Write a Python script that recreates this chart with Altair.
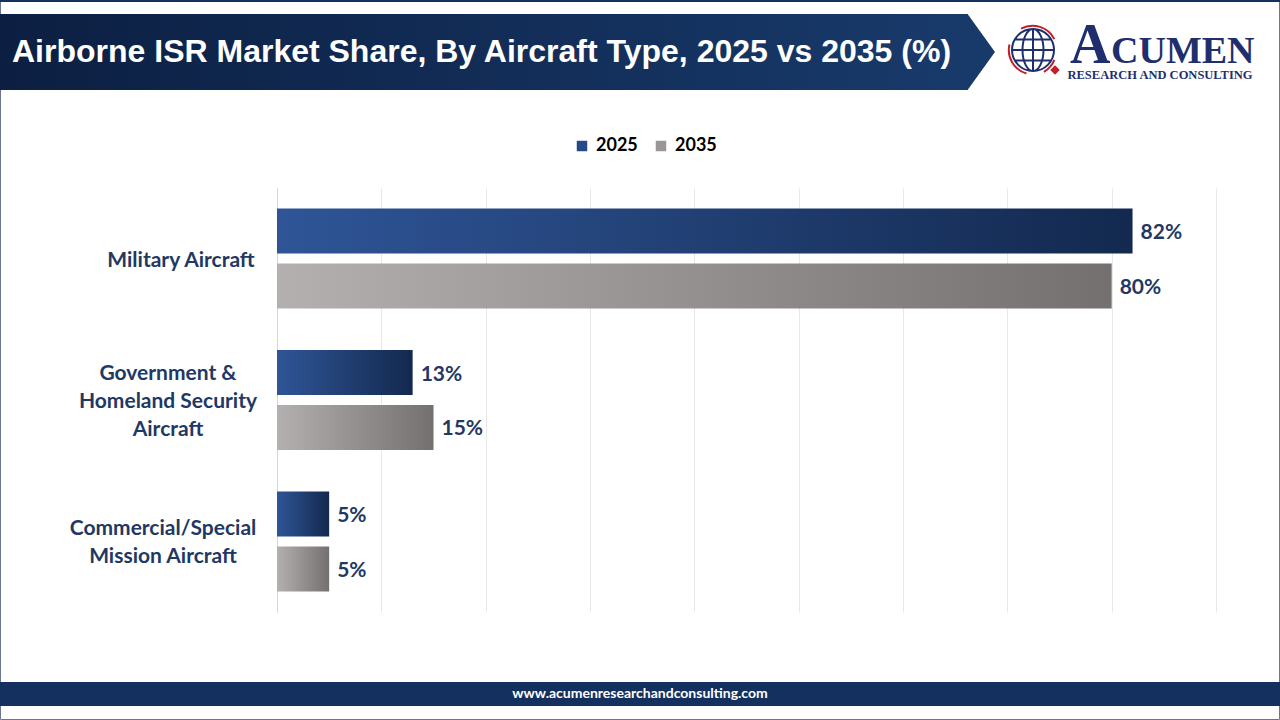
import altair as alt
import pandas as pd

# ---------------- data ----------------
categories = [
    "Military Aircraft",
    "Government & Homeland Security Aircraft",
    "Commercial/Special Mission Aircraft",
]
category_display = [
    "Military Aircraft",
    "Government &\nHomeland Security\nAircraft",
    "Commercial/Special\nMission Aircraft",
]
series = ["2025", "2035"]
values_2025 = [82, 13, 5]
values_2035 = [80, 15, 5]
x_ticks = [0, 10, 20, 30, 40, 50, 60, 70, 80, 90]

title_text = "Airborne ISR Market Share, By Aircraft Type, 2025 vs 2035 (%)"
footer_text = "www.acumenresearchandconsulting.com"

rows = []
for c, v in zip(categories, values_2025):
    rows.append({"category": c, "series": "2025", "value": v})
for c, v in zip(categories, values_2035):
    rows.append({"category": c, "series": "2035", "value": v})
df = pd.DataFrame(rows)
cat_df = pd.DataFrame({"category": categories, "display": category_display})
one = pd.DataFrame({"k": [0]})

NAVY = "#1F3864"
LABEL_CENTERS = [181, 168, 163]   # label block centres (px, canvas) – styling only
LINE_H = 28

y_enc = alt.Y(
    "category:N",
    sort=categories,
    scale=alt.Scale(paddingInner=0.293, paddingOuter=0.145),
    axis=alt.Axis(labels=False, ticks=False, title=None, domain=True,
                  domainColor="#D6D6D6", domainWidth=1, grid=False),
)
yoff_enc = alt.YOffset("series:N", sort=series,
                       scale=alt.Scale(paddingInner=0.18, paddingOuter=0))
x_enc = alt.X(
    "value:Q",
    scale=alt.Scale(domain=[0, 90], nice=False),
    axis=alt.Axis(values=x_ticks, grid=True, labels=False, ticks=False,
                  domain=False, title=None, gridColor="#E8E8E8", gridWidth=1),
)

base = alt.Chart(df).encode(x=x_enc, y=y_enc, yOffset=yoff_enc)


def grad(c1, c2):
    return alt.Gradient(
        gradient="linear",
        stops=[alt.GradientStop(color=c1, offset=0), alt.GradientStop(color=c2, offset=1)],
        x1=0, x2=1, y1=0, y2=0,
    )


bars_2025 = base.transform_filter(alt.datum.series == "2025").mark_bar(
    color=grad("#2F5597", "#13294F"))
bars_2035 = base.transform_filter(alt.datum.series == "2035").mark_bar(
    color=grad("#B4B0AF", "#747070"))

value_labels = base.transform_calculate(
    label="datum.value + '%'"
).mark_text(
    align="left", baseline="middle", dx=8, dy=2, font="Lato", fontWeight="bold",
    fontSize=21, color=NAVY,
).encode(text="label:N")

legend_layer = alt.Chart(df).mark_square(size=0, opacity=1).encode(
    x=x_enc, y=y_enc, yOffset=yoff_enc,
    color=alt.Color(
        "series:N", sort=series,
        scale=alt.Scale(domain=series, range=["#254A8A", "#9A9695"]),
        legend=alt.Legend(
            title=None, orient="none", legendX=296, legendY=-51,
            direction="horizontal", symbolType="square", symbolSize=110,
            symbolStrokeWidth=0, labelFont="Lato", labelFontWeight="bold",
            labelFontSize=18, labelColor="#000000", columnPadding=14,
            labelOffset=5, padding=0,
        ),
    ),
)

cat_layers = []
for cat, disp, cx in zip(categories, category_display, LABEL_CENTERS):
    n_lines = disp.count("\n") + 1
    cat_layers.append(
        alt.Chart(cat_df).transform_filter(alt.datum.category == cat).mark_text(
            align="center", baseline="middle", lineBreak="\n", lineHeight=LINE_H,
            dy=-(n_lines - 1) * LINE_H / 2 + 2,
            font="Lato", fontWeight="bold", fontSize=21, color=NAVY,
        ).encode(y=y_enc, x=alt.value(cx - 277), text="display:N")
    )

# ------------- decorations (pixel positions relative to plot origin 277,188) -------------
banner = alt.Chart(one).mark_rect(color=grad("#0C1F42", "#183A6B")).encode(
    x=alt.value(-277), x2=alt.value(691), y=alt.value(-174), y2=alt.value(-98))
banner_tip = alt.Chart(one).mark_point(
    shape="M-0.4,-1L0.32,0L-0.4,1Z", filled=True, size=5776, color="#183A6B", opacity=1,
).encode(x=alt.value(705.8), y=alt.value(-136))
title = alt.Chart(one).mark_text(
    text=title_text, align="left", baseline="alphabetic", font="Liberation Sans",
    fontWeight="bold", fontSize=32, color="white",
).encode(x=alt.value(-265), y=alt.value(-126))

globe = alt.Chart(one).mark_point(
    shape=("M-1,0A1,1,0,1,0,1,0A1,1,0,1,0,-1,0Z M-1,0L1,0 M0,-1L0,1 "
           "M-0.87,-0.5L0.87,-0.5 M-0.87,0.5L0.87,0.5 "
           "M0,-1A0.5,1,0,0,0,0,1 M0,-1A0.5,1,0,0,1,0,1"),
    filled=False, size=1764, stroke="#1F2F6E", strokeWidth=2, opacity=1,
).encode(x=alt.value(756), y=alt.value(-138))
ring = alt.Chart(one).mark_point(
    shape=("M-0.55,-0.98A1.12,1.12,0,0,1,0.98,-0.5 "
           "M0.98,0.45A1.12,1.12,0,0,1,0.5,1.0 "
           "M-0.3,1.08A1.12,1.12,0,0,1,-1.08,-0.25"),
    filled=False, size=1900, stroke="#C0202A", strokeWidth=2, opacity=1,
).encode(x=alt.value(756), y=alt.value(-138))
diamond = alt.Chart(one).mark_point(
    shape="diamond", filled=True, size=90, color="#C0202A", opacity=1,
).encode(x=alt.value(778), y=alt.value(-118))
logo_a = alt.Chart(one).mark_text(
    text="A", align="left", baseline="alphabetic", font="Liberation Serif",
    fontWeight="bold", fontSize=56, color="#1F2F6E",
).encode(x=alt.value(793), y=alt.value(-125))
logo_rest = alt.Chart(one).mark_text(
    text="CUMEN", align="left", baseline="alphabetic", font="Liberation Serif",
    fontWeight="bold", fontSize=38, color="#1F2F6E",
).encode(x=alt.value(834), y=alt.value(-125))
logo_sub = alt.Chart(one).mark_text(
    text="RESEARCH AND CONSULTING", align="center", baseline="alphabetic",
    font="Liberation Serif", fontWeight="bold", fontSize=12.5, color="#1F2F6E",
).encode(x=alt.value(883), y=alt.value(-109))

footer = alt.Chart(one).mark_rect(color="#14305E").encode(
    x=alt.value(-277), x2=alt.value(1003), y=alt.value(494), y2=alt.value(518))
footer_txt = alt.Chart(one).mark_text(
    text=footer_text, align="center", baseline="middle", font="Lato",
    fontWeight="bold", fontSize=14, color="white",
).encode(x=alt.value(363), y=alt.value(506))
frame = alt.Chart(one).mark_rect(fill=None, stroke="#6B7790", strokeWidth=1).encode(
    x=alt.value(-276.5), x2=alt.value(1002.5), y=alt.value(-187.5), y2=alt.value(531.5))
top_line = alt.Chart(one).mark_rect(color="#14305E").encode(
    x=alt.value(-277), x2=alt.value(1003), y=alt.value(-188), y2=alt.value(-186))

chart = alt.layer(
    frame, top_line, banner, banner_tip, title, ring, globe, diamond,
    logo_a, logo_rest, logo_sub, footer, footer_txt,
    legend_layer, bars_2025, bars_2035, value_labels, *cat_layers,
).properties(
    width=939, height=424,
    padding={"left": 277, "top": 188, "right": 64, "bottom": 108},
    autosize=alt.AutoSizeParams(type="none"),
    background="white",
).configure_view(stroke=None)

chart.save("out.html", embed_options={"renderer": "svg", "actions": False})
